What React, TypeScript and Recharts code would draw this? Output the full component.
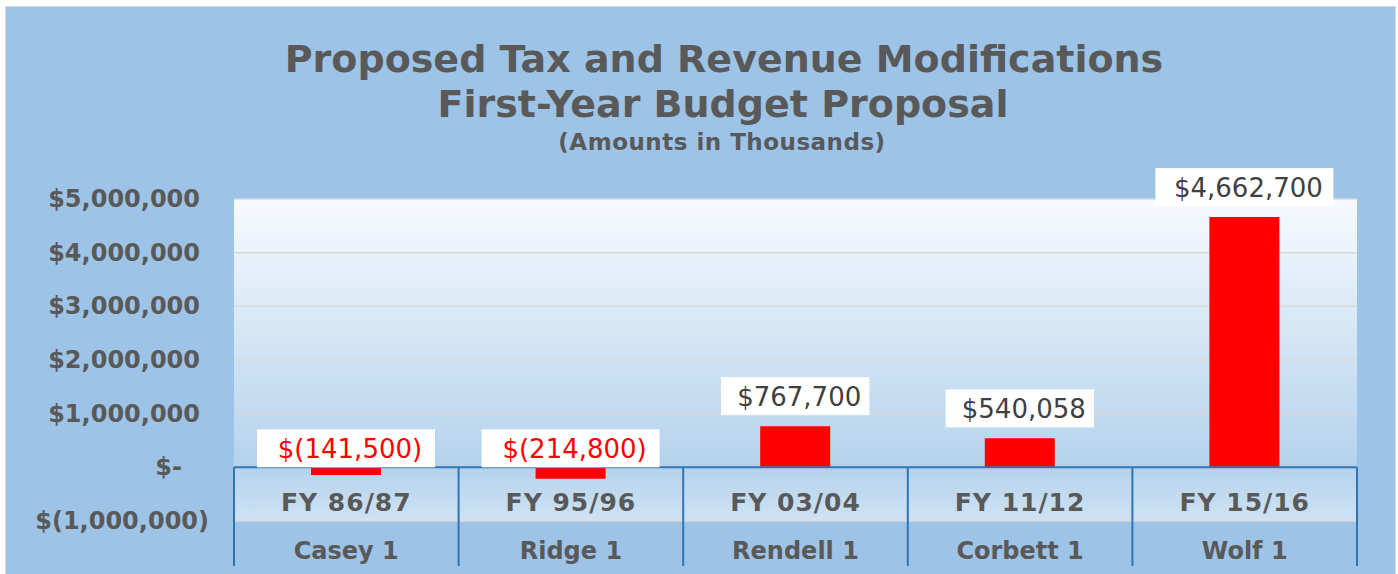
import React from "react";
import {
  BarChart,
  Bar,
  XAxis,
  YAxis,
  CartesianGrid,
  ReferenceLine,
  LabelList,
} from "recharts";

const fiscalYears = ["FY 86/87", "FY 95/96", "FY 03/04", "FY 11/12", "FY 15/16"];
const governors = ["Casey 1", "Ridge 1", "Rendell 1", "Corbett 1", "Wolf 1"];
const changes = [-141500, -214800, 767700, 540058, 4662700];
const yTicks = [-1000000, 0, 1000000, 2000000, 3000000, 4000000, 5000000];

const titleLines = [
  "Proposed Tax and Revenue Modifications",
  "First-Year Budget Proposal",
];
const subtitle = "(Amounts in Thousands)";

const data = fiscalYears.map((fy, i) => ({
  fy,
  governor: governors[i],
  value: changes[i],
}));

// layout
const W = 1398;
const H = 574;
const PLOT_LEFT = 234;
const PLOT_RIGHT = 1357;
const PLOT_TOP = 199;
const PLOT_BOTTOM = 521;
const BAND = (PLOT_RIGHT - PLOT_LEFT) / fiscalYears.length;
const Y_MIN = yTicks[0];
const Y_MAX = yTicks[yTicks.length - 1];
const ZERO_Y = PLOT_BOTTOM - ((PLOT_BOTTOM - PLOT_TOP) * (0 - Y_MIN)) / (Y_MAX - Y_MIN);

const TEXT = "#595959";
const AXIS_BLUE = "#2E75B6";
const FONT = "'DejaVu Sans', Verdana, sans-serif";

// Excel-style accounting format
const acct = (v: number) => {
  if (v === 0) return "$-";
  const s = Math.abs(v).toLocaleString("en-US");
  return v < 0 ? `$(${s})` : `$${s}`;
};

const YTick = (props: any) => {
  const { x, y, payload } = props;
  const v = payload.value as number;
  const shift = v < 0 ? 9 : v === 0 ? -18 : 0;
  return (
    <text
      x={x + shift}
      y={y}
      dy={8}
      textAnchor="end"
      fill={TEXT}
      fontFamily={FONT}
      fontWeight="bold"
      fontSize={24}
    >
      {acct(v)}
    </text>
  );
};

const XTick = (props: any) => {
  const { x, y, payload, index } = props;
  const left = x - BAND / 2;
  const right = x + BAND / 2;
  return (
    <g>
      <line x1={left} x2={left} y1={ZERO_Y} y2={y + 45} stroke={AXIS_BLUE} strokeWidth={2} />
      {index === fiscalYears.length - 1 && (
        <line x1={right} x2={right} y1={ZERO_Y} y2={y + 45} stroke={AXIS_BLUE} strokeWidth={2} />
      )}
      <text
        x={x}
        y={y - 10}
        textAnchor="middle"
        fill={TEXT}
        fontFamily={FONT}
        fontWeight="bold"
        fontSize={25}
        letterSpacing={1}
      >
        {payload.value}
      </text>
      <text
        x={x}
        y={y + 38}
        textAnchor="middle"
        fill={TEXT}
        fontFamily={FONT}
        fontWeight="bold"
        fontSize={24}
      >
        {governors[index]}
      </text>
    </g>
  );
};

const ValueLabel = (props: any) => {
  const { x, y, width, height, value } = props;
  const top = Math.min(y, y + height);
  const text = acct(value);
  const boxW = text.length * 14.8 + 30;
  const boxH = 38;
  const cx = x + width / 2;
  const boxBottom = value < 0 ? ZERO_Y : top - 11;
  return (
    <g>
      <rect x={cx - boxW / 2} y={boxBottom - boxH} width={boxW} height={boxH} fill="#FFFFFF" />
      <text
        x={cx + 4}
        y={boxBottom - 9}
        textAnchor="middle"
        fill={value < 0 ? "#FF0000" : "#404040"}
        fontFamily={FONT}
        fontSize={26}
      >
        {text}
      </text>
    </g>
  );
};

export default function App() {
  return (
    <div style={{ position: "absolute", left: 0, top: 0, width: W, height: H, background: "#FFFFFF", overflow: "hidden" }}>
      <div
        style={{
          position: "absolute",
          left: 5,
          top: 6,
          width: 1389,
          height: H,
          background: "#9DC3E6",
          border: "1px solid #D9D9D9",
        }}
      />
      <svg width={0} height={0} style={{ position: "absolute" }}>
        <defs>
          <linearGradient id="plotFill" x1="0" y1="0" x2="0" y2="1">
            <stop offset="0%" stopColor="#F7FAFE" />
            <stop offset="83%" stopColor="#B4D2EC" />
            <stop offset="100%" stopColor="#CFE2F3" />
          </linearGradient>
        </defs>
      </svg>
      <div style={{ position: "absolute", left: 0, top: 0 }}>
        <BarChart
          width={W}
          height={H}
          data={data}
          margin={{ top: PLOT_TOP, right: W - PLOT_RIGHT, bottom: 0, left: 0 }}
        >
          <CartesianGrid
            vertical={false}
            stroke="#D9D9D9"
            strokeWidth={1.5}
            fill="url(#plotFill)"
            fillOpacity={1}
          />
          <YAxis
            width={PLOT_LEFT}
            domain={[Y_MIN, Y_MAX]}
            ticks={yTicks}
            interval={0}
            axisLine={false}
            tickLine={false}
            tickSize={0}
            tickMargin={34}
            tick={<YTick />}
          />
          <XAxis
            dataKey="fy"
            height={H - PLOT_BOTTOM}
            axisLine={false}
            tickLine={false}
            tickSize={0}
            tickMargin={0}
            interval={0}
            tick={<XTick />}
          />
          <Bar dataKey="value" fill="#FF0000" barSize={70} isAnimationActive={false}>
            <LabelList dataKey="value" content={<ValueLabel />} />
          </Bar>
          <ReferenceLine y={0} stroke={AXIS_BLUE} strokeWidth={2} />
        </BarChart>
      </div>
      <svg width={W} height={170} style={{ position: "absolute", left: 0, top: 0, pointerEvents: "none" }}>
        <text x={724} y={72} textAnchor="middle" fill={TEXT} fontFamily={FONT} fontWeight="bold" fontSize={38}>
          {titleLines[0]}
        </text>
        <text x={723} y={117} textAnchor="middle" fill={TEXT} fontFamily={FONT} fontWeight="bold" fontSize={38}>
          {titleLines[1]}
        </text>
        <text x={722} y={150} textAnchor="middle" fill={TEXT} fontFamily={FONT} fontWeight="bold" fontSize={23} letterSpacing={0.5}>
          {subtitle}
        </text>
      </svg>
    </div>
  );
}
